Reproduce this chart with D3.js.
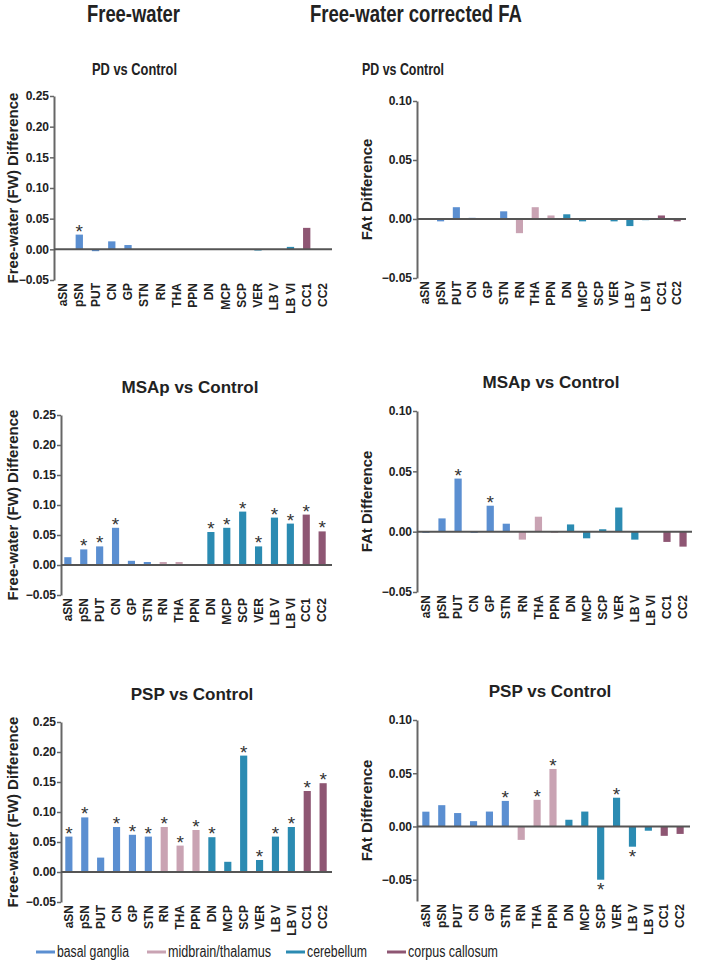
<!DOCTYPE html>
<html>
<head>
<meta charset="utf-8">
<script src="https://cdn.jsdelivr.net/npm/d3@7"></script>
<style>
  body { margin: 0; background: #fff; }
  svg { display: block; font-family: "Liberation Sans", Arial, sans-serif; }
</style>
</head>
<body>
<svg id="chart" width="709" height="979"></svg>
<script>
// regions along the x axis
var categories = ["aSN","pSN","PUT","CN","GP","STN","RN","THA","PPN","DN","MCP","SCP","VER","LB V","LB VI","CC1","CC2"];
var regionGroup = ["basal ganglia","basal ganglia","basal ganglia","basal ganglia","basal ganglia","basal ganglia",
  "midbrain/thalamus","midbrain/thalamus","midbrain/thalamus",
  "cerebellum","cerebellum","cerebellum","cerebellum","cerebellum","cerebellum",
  "corpus callosum","corpus callosum"];
var groupNames = ["basal ganglia","midbrain/thalamus","cerebellum","corpus callosum"];

// free-water difference
var fwPD   = [0, 0.024, -0.003, 0.013, 0.007, -0.001, 0, 0, 0, -0.001, 0, 0, -0.002, 0, 0.004, 0.035, 0];
var fwMSAp = [0.013, 0.026, 0.031, 0.062, 0.007, 0.005, 0.005, 0.005, 0.001, 0.055, 0.062, 0.089, 0.031, 0.079, 0.069, 0.084, 0.056];
var fwPSP  = [0.059, 0.091, 0.024, 0.075, 0.062, 0.059, 0.075, 0.044, 0.070, 0.058, 0.017, 0.194, 0.020, 0.059, 0.075, 0.135, 0.148];
// free-water corrected FA difference
var fatPD   = [0, -0.002, 0.010, 0.001, 0, 0.0065, -0.012, 0.010, 0.003, 0.004, -0.002, 0, -0.002, -0.006, -0.001, 0.003, -0.002];
var fatMSAp = [-0.001, 0.011, 0.044, -0.001, 0.0215, 0.0066, -0.0066, 0.0124, -0.001, 0.006, -0.0055, 0.002, 0.020, -0.0066, 0, -0.0085, -0.0124];
var fatPSP  = [0.0139, 0.020, 0.0126, 0.005, 0.014, 0.024, -0.0126, 0.025, 0.054, 0.0063, 0.014, -0.050, 0.027, -0.019, -0.004, -0.0088, -0.007];

// significant regions (asterisks)
var sigFwPD    = ["pSN"];
var sigFwMSAp  = ["pSN","PUT","CN","DN","MCP","SCP","VER","LB V","LB VI","CC1","CC2"];
var sigFwPSP   = ["aSN","pSN","CN","GP","STN","RN","THA","PPN","DN","SCP","VER","LB V","LB VI","CC1","CC2"];
var sigFatPD   = [];
var sigFatMSAp = ["PUT","GP"];
var sigFatPSP  = ["STN","THA","PPN","SCP","VER","LB V"];

var fwTicks  = [-0.05, 0, 0.05, 0.10, 0.15, 0.20, 0.25];
var fatTicks = [-0.05, 0, 0.05, 0.10];

var color = d3.scaleOrdinal()
  .domain(groupNames)
  .range(["#5b8fd1", "#c9a3b3", "#2b8bb2", "#8e5673"]);

var svg = d3.select("#chart");

// column headers (condensed look via textLength)
svg.append("text").attr("x", 87).attr("y", 22)
  .attr("textLength", 93).attr("lengthAdjust", "spacingAndGlyphs")
  .style("font-weight", "bold").style("font-size", "24px")
  .attr("fill", "#222").text("Free-water");
svg.append("text").attr("x", 310).attr("y", 22)
  .attr("textLength", 212).attr("lengthAdjust", "spacingAndGlyphs")
  .style("font-weight", "bold").style("font-size", "24px")
  .attr("fill", "#222").text("Free-water corrected FA");

var panels = [
  {vals: fwPD,   sig: sigFwPD,   ticks: fwTicks,  dom: [-0.05, 0.25], y: [280, 96],  axisX: 54,  band: [55, 331],  end: 332,
   title: "PD vs Control", tx: 92, tw: 85, ty: 75, ylab: "Free-water (FW) Difference", lx: 13},
  {vals: fatPD,  sig: sigFatPD,  ticks: fatTicks, dom: [-0.05, 0.10], y: [278, 101], axisX: 417, band: [417, 685], end: 686,
   title: "PD vs Control", tx: 362, tw: 82, ty: 75, ylab: "FAt Difference", lx: 367},
  {vals: fwMSAp, sig: sigFwMSAp, ticks: fwTicks,  dom: [-0.05, 0.25], y: [595, 415], axisX: 61,  band: [60, 330],  end: 332,
   title: "MSAp vs Control", tx: 190, ty: 393, ylab: "Free-water (FW) Difference", lx: 13},
  {vals: fatMSAp, sig: sigFatMSAp, ticks: fatTicks, dom: [-0.05, 0.10], y: [592, 411], axisX: 417, band: [418, 691], end: 692,
   title: "MSAp vs Control", tx: 551, ty: 388, ylab: "FAt Difference", lx: 367},
  {vals: fwPSP,  sig: sigFwPSP,  ticks: fwTicks,  dom: [-0.05, 0.25], y: [902, 722], axisX: 61,  band: [61, 331],  end: 332,
   title: "PSP vs Control", tx: 192, ty: 700, ylab: "Free-water (FW) Difference", lx: 13},
  {vals: fatPSP, sig: sigFatPSP, ticks: fatTicks, dom: [-0.07, 0.10], y: [901, 720], axisX: 417, band: [418, 688], end: 690,
   title: "PSP vs Control", tx: 550, ty: 697, ylab: "FAt Difference", lx: 367}
];

panels.forEach(function(p) {
  var g = svg.append("g");
  var x = d3.scaleBand().domain(categories).range(p.band).paddingInner(0.55).paddingOuter(0.27);
  var y = d3.scaleLinear().domain(p.dom).range(p.y);

  // title
  var t = g.append("text").attr("x", p.tx).attr("y", p.ty)
    .style("font-weight", "bold").attr("fill", "#222").text(p.title);
  if (p.tw) {
    t.style("font-size", "17px").attr("textLength", p.tw).attr("lengthAdjust", "spacingAndGlyphs");
  } else {
    t.attr("text-anchor", "middle").style("font-size", "17px");
  }

  // y axis
  var yAxis = d3.axisLeft(y).tickValues(p.ticks).tickSize(4).tickSizeOuter(0)
    .tickFormat(d3.format(".2f"));
  var ga = g.append("g").attr("transform", "translate(" + p.axisX + ",0)").call(yAxis);
  ga.select(".domain").attr("stroke", "#666").attr("stroke-width", 2);
  ga.selectAll(".tick line").attr("stroke", "#666").attr("stroke-width", 1.5);
  ga.selectAll(".tick text").attr("fill", "#222").attr("x", -5)
    .style("font-family", "'Liberation Sans', Arial, sans-serif")
    .style("font-weight", "bold").style("font-size", "12px");

  // y label
  var midY = (p.y[0] + p.y[1]) / 2;
  g.append("text").attr("transform", "translate(" + p.lx + "," + midY + ") rotate(-90)")
    .attr("text-anchor", "middle").attr("dy", "0.35em")
    .style("font-weight", "bold").style("font-size", "15px").attr("fill", "#222")
    .text(p.ylab);

  // bars
  var rows = categories.map(function(c, i) { return {cat: c, v: p.vals[i], grp: regionGroup[i]}; });
  g.selectAll(".bar").data(rows).enter().append("rect")
    .attr("class", "bar")
    .attr("x", function(d) { return x(d.cat); })
    .attr("width", x.bandwidth())
    .attr("y", function(d) { return Math.min(y(d.v), y(0)); })
    .attr("height", function(d) { return Math.abs(y(d.v) - y(0)); })
    .attr("fill", function(d) { return color(d.grp); });

  // zero line
  g.append("line").attr("x1", p.axisX).attr("x2", p.end)
    .attr("y1", y(0)).attr("y2", y(0))
    .attr("stroke", "#555").attr("stroke-width", 2);

  // significance stars
  g.selectAll(".star").data(rows.filter(function(d) { return p.sig.indexOf(d.cat) >= 0; }))
    .enter().append("text")
    .attr("class", "star")
    .attr("x", function(d) { return x(d.cat) + x.bandwidth() / 2; })
    .attr("y", function(d) { return d.v >= 0 ? y(d.v) + 3 : y(d.v) + 16; })
    .attr("text-anchor", "middle")
    .style("font-size", "19px").attr("fill", "#333")
    .text("*");

  // category labels
  var bottom = p.y[0];
  g.selectAll(".xl").data(categories).enter().append("text")
    .attr("class", "xl")
    .attr("transform", function(d) {
      return "translate(" + (x(d) + x.bandwidth() / 2) + "," + (bottom + 3) + ") rotate(-90)";
    })
    .attr("text-anchor", "end").attr("dy", "0.35em")
    .style("font-weight", "bold").style("font-size", "12px").attr("fill", "#222")
    .text(function(d) { return d; });
});

// legend
var legendX = [36, 147, 286, 387];
var legendW = [72, 103, 60, 90];
var lg = svg.append("g").selectAll("g").data(groupNames).enter().append("g")
  .attr("transform", function(d, i) { return "translate(" + legendX[i] + ",952)"; });
lg.append("line").attr("x1", 0).attr("x2", 19).attr("y1", 0).attr("y2", 0)
  .attr("stroke", function(d) { return color(d); }).attr("stroke-width", 3);
lg.append("text").attr("x", 21).attr("y", 5)
  .attr("textLength", function(d, i) { return legendW[i]; })
  .attr("lengthAdjust", "spacingAndGlyphs")
  .style("font-size", "16px").attr("fill", "#222")
  .text(function(d) { return d; });
</script>
</body>
</html>
